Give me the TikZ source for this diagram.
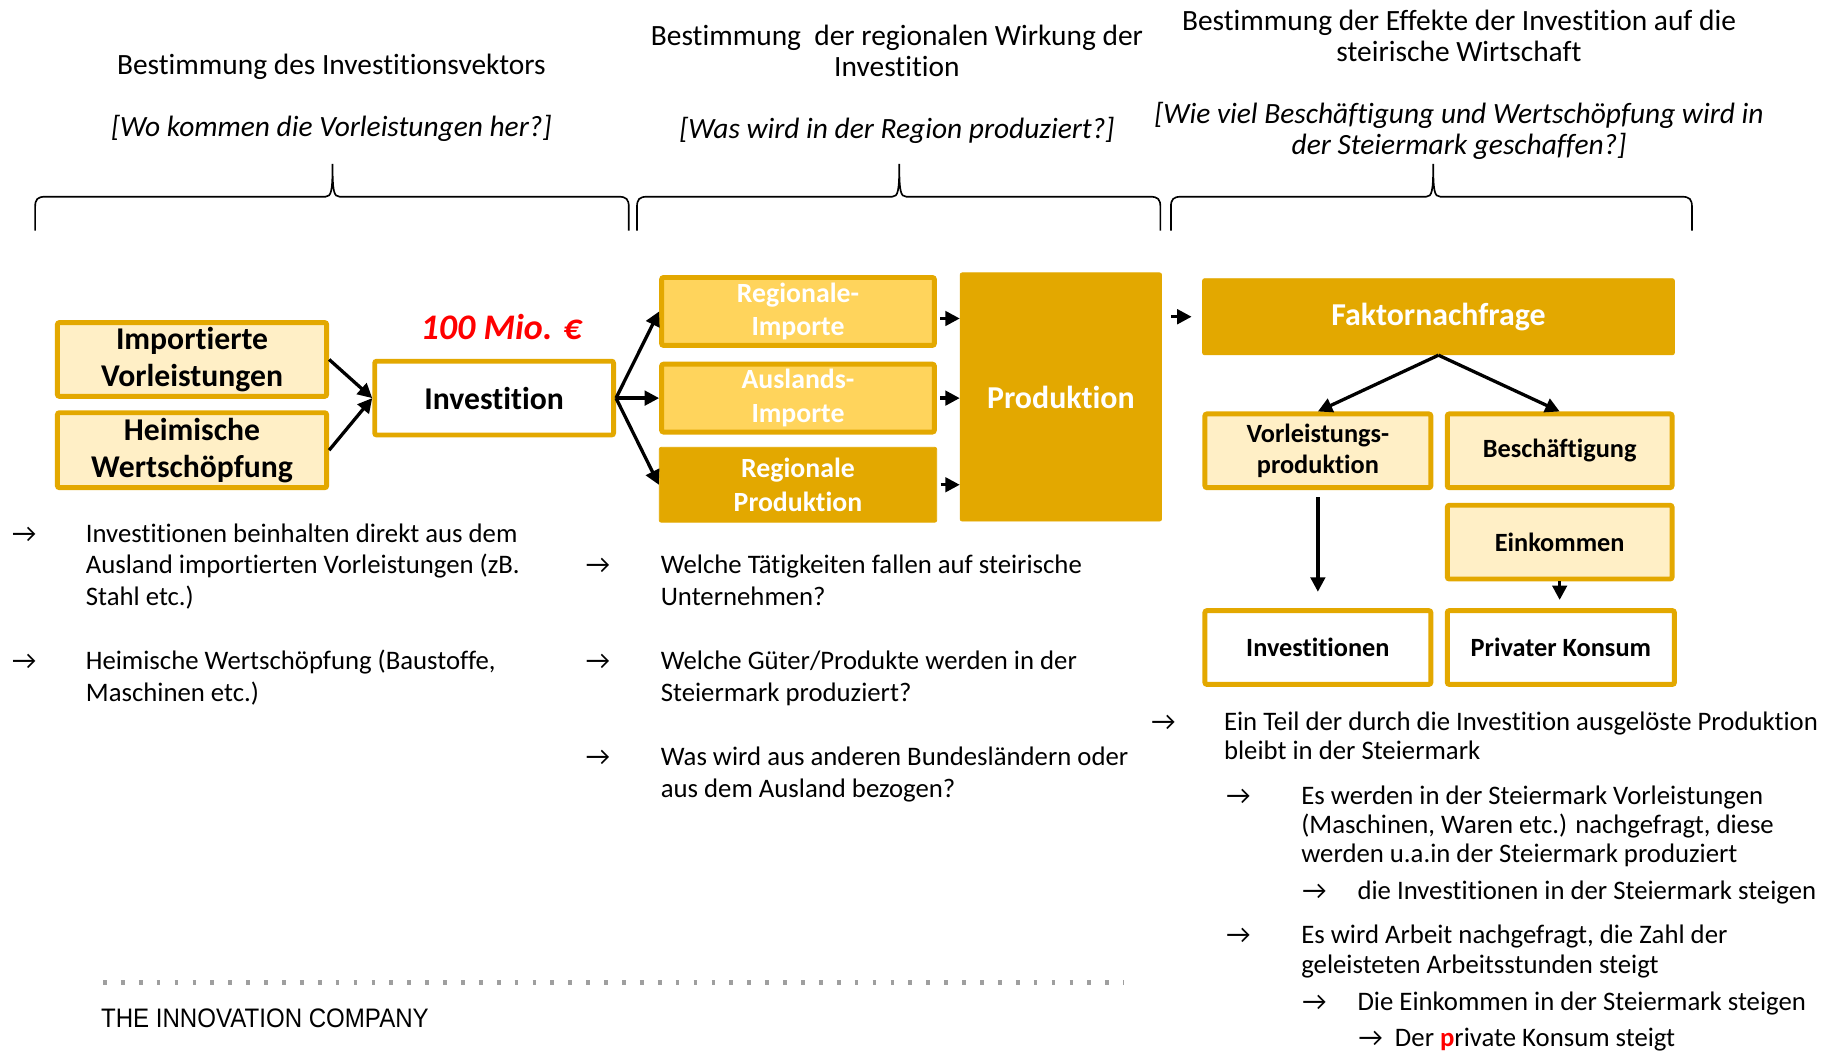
\documentclass[tikz,border=0pt]{standalone}
\usepackage{fontspec}
\usepackage{graphicx}
\setmainfont{Carlito}[Ligatures=NoCommon]
\newfontfamily\logofont{Liberation Sans}
\usetikzlibrary{arrows.meta}
\definecolor{gold}{HTML}{E3A800}
\definecolor{goldhell}{HTML}{FFEFC6}
\definecolor{goldmittel}{HTML}{FFD45C}
\definecolor{rot}{HTML}{FF0000}
\newcommand{\kopffont}{\fontsize{14.3}{15.3}\selectfont}
\newcommand{\txtfont}{\fontsize{13}{15.3}\selectfont}
\newcommand{\effektfont}{\fontsize{13}{14.2}\selectfont}

\begin{document}
\begin{tikzpicture}[x=0.02cm,y=-0.02cm,
  hellbox/.style={draw=gold,line width=2.4pt,fill=goldhell,rounded corners=1pt,align=center,inner sep=0,font=\bfseries\fontsize{15.4}{18.1}\selectfont},
  weissbox/.style={hellbox,fill=white},
  mittelbox/.style={hellbox,fill=goldmittel,text=white,font=\bfseries\fontsize{13.5}{16.4}\selectfont},
  vollbox/.style={draw=gold,fill=gold,rounded corners=1pt,align=center,inner sep=0,text=white},
  kleinbox/.style={hellbox,font=\bfseries\fontsize{12.8}{15.3}\selectfont},
  pfeil/.style={-{Triangle[length=7pt,width=7pt]},line width=1.6pt},
  klammer/.style={line width=0.8pt},
  kopf/.style={align=center,font=\kopffont},
  frage/.style={align=center,font=\kopffont\itshape},
  punkt/.style={anchor=base west,align=left,inner sep=0,font=\txtfont}]
  \useasboundingbox (0,0) rectangle (1568,898);

  % Ueberschriften
  \node[kopf] (h1) at (283,57) {Bestimmung des Investitionsvektors};
  \node[frage] (q1) at (283,110) {[Wo kommen die Vorleistungen her?]};
  \node[kopf] (h2) at (766,43.5) {Bestimmung~ der regionalen Wirkung der\\Investition};
  \node[frage] (q2) at (766,111) {[Was wird in der Region produziert?]};
  \node[kopf] (h3) at (1246,30.5) {Bestimmung der Effekte der Investition auf die\\steirische Wirtschaft};
  \node[frage] (q3) at (1246,112) {[Wie viel Beschäftigung und Wertschöpfung wird in\\der Steiermark geschaffen?]};

  % Klammern
  \foreach \l/\t/\r in {30/284/537, 544/768/991, 1000/1224/1445}
    \draw[klammer] (\l,197) -- (\l,177) .. controls (\l,170) and (\l+2,168) .. (\l+9,168)
      -- (\t-6,168) .. controls (\t-1,168) and (\t,163) .. (\t,140)
      .. controls (\t,163) and (\t+1,168) .. (\t+6,168)
      -- (\r-9,168) .. controls (\r-2,168) and (\r,170) .. (\r,177) -- (\r,197);

  % Investitionsvektor
  \node[hellbox,minimum width=4.6cm,minimum height=1.26cm] (imp) at (164,307) {Importierte\\Vorleistungen};
  \node[hellbox,minimum width=4.6cm,minimum height=1.28cm] (heim) at (164,384.5) {Heimische\\Wertschöpfung};
  \node[weissbox,minimum width=4.08cm,minimum height=1.26cm] (inv) at (422,340) {Investition};
  \node[font=\bfseries\itshape\fontsize{17.5}{21}\selectfont,text=rot] (mio) at (428,279) {100 Mio. €};

  % regionale Wirkung
  \node[mittelbox,minimum width=4.66cm,minimum height=1.16cm] (regimp) at (681.5,266) {Regionale-\\Importe};
  \node[mittelbox,minimum width=4.66cm,minimum height=1.16cm] (ausimp) at (681.5,340) {Auslands-\\Importe};
  \node[vollbox,font=\bfseries\fontsize{13.5}{16.4}\selectfont,minimum width=4.74cm,minimum height=1.28cm] (regprod) at (681.5,414) {Regionale\\Produktion};
  \node[vollbox,font=\bfseries\fontsize{15.5}{18}\selectfont,minimum width=3.44cm,minimum height=4.24cm] (prod) at (906,339) {Produktion};

  % Effekte
  \node[vollbox,font=\bfseries\fontsize{15.5}{18}\selectfont,minimum width=8.06cm,minimum height=1.3cm] (fakt) at (1228.5,270.5) {Faktornachfrage};
  \node[kleinbox,minimum width=3.86cm,minimum height=1.26cm] (vlp) at (1125.5,385) {Vorleistungs-\\produktion};
  \node[kleinbox,minimum width=3.84cm,minimum height=1.26cm] (besch) at (1332,385) {Beschäftigung};
  \node[kleinbox,minimum width=3.84cm,minimum height=1.26cm] (eink) at (1332,463) {Einkommen};
  \node[kleinbox,fill=white,minimum width=3.86cm,minimum height=1.26cm] (invs) at (1125.5,553) {Investitionen};
  \node[kleinbox,fill=white,minimum width=3.88cm,minimum height=1.26cm] (konsum) at (1333,553) {Privater Konsum};

  \draw[pfeil] (imp.east) -- (inv.west);
  \draw[pfeil] (heim.east) -- (inv.west);
  \draw[pfeil] (inv.east) -- (regimp.west);
  \draw[pfeil] (inv.east) -- (ausimp.west);
  \draw[pfeil] (inv.east) -- (regprod.west);
  \draw[pfeil,shorten <=0.06cm] ([yshift=-0.12cm]regimp.east) -- ([yshift=-0.12cm]regimp.east -| prod.west);
  \draw[pfeil,shorten <=0.06cm] (ausimp.east) -- (ausimp.east -| prod.west);
  \draw[pfeil,shorten <=0.06cm] (regprod.east) -- (regprod.east -| prod.west);
  \draw[pfeil,shorten <=0.16cm,shorten >=0.18cm] (prod.east |- fakt.west) -- (fakt.west);
  \draw[pfeil] (fakt.south) -- (vlp.north);
  \draw[pfeil] (fakt.south) -- (besch.north);
  \draw[pfeil,shorten <=0.12cm,shorten >=0.28cm] (vlp.south) -- (invs.north);
  \draw[pfeil,shorten >=0.14cm] (eink.south) -- (eink.south |- konsum.north);

  % Erlaeuterungen (base = letzte Zeile)
  \node[punkt] (a1) at (10,463) {→};
  \node[punkt] (t1) at (73,517) {Investitionen beinhalten direkt aus dem\\Ausland importierten Vorleistungen (zB.\\Stahl etc.)};
  \node[punkt] (a2) at (10,572) {→};
  \node[punkt] (t2) at (73,599) {Heimische Wertschöpfung (Baustoffe,\\Maschinen etc.)};

  \node[punkt] (a3) at (500,490) {→};
  \node[punkt] (t3) at (564,517) {Welche Tätigkeiten fallen auf steirische\\Unternehmen?};
  \node[punkt] (a4) at (500,572) {→};
  \node[punkt] (t4) at (564,599) {Welche Güter/Produkte werden in der\\Steiermark produziert?};
  \node[punkt] (a5) at (500,654) {→};
  \node[punkt] (t5) at (564,681) {Was wird aus anderen Bundesländern oder\\aus dem Ausland bezogen?};

  \node[punkt,font=\effektfont] (a6) at (983,624) {→};
  \node[punkt,font=\effektfont] (t6) at (1045,649) {Ein Teil der durch die Investition ausgelöste Produktion\\bleibt in der Steiermark};
  \node[punkt,font=\effektfont] (a7) at (1047,687) {→};
  \node[punkt,font=\effektfont] (t7) at (1111,737) {Es werden in der Steiermark Vorleistungen\\(Maschinen, Waren etc.) nachgefragt, diese\\werden u.a.in der Steiermark produziert};
  \node[punkt,font=\effektfont] (a8) at (1112,768) {→};
  \node[punkt,font=\effektfont] (t8) at (1159,768) {die Investitionen in der Steiermark steigen};
  \node[punkt,font=\effektfont] (a9) at (1047,806) {→};
  \node[punkt,font=\effektfont] (t9) at (1111,831) {Es wird Arbeit nachgefragt, die Zahl der\\geleisteten Arbeitsstunden steigt};
  \node[punkt,font=\effektfont] (a10) at (1112,863) {→};
  \node[punkt,font=\effektfont] (t10) at (1159,863) {Die Einkommen in der Steiermark steigen};
  \node[punkt,font=\effektfont] (a11) at (1160,894) {→};
  \node[punkt,font=\effektfont] (t11) at (1191,894) {Der {\color{rot}\bfseries p}rivate Konsum steigt};

  % Fusszeile
  \draw[gray!75,line width=2.6pt,dash pattern=on 1.8pt off 6.9pt] (88,839) -- (960,839);
  \node[anchor=west,inner sep=0,font=\logofont\fontsize{13}{15}\selectfont] (logo) at (86,870) {\scalebox{0.9}[1]{THE INNOVATION COMPANY}};
\end{tikzpicture}
\end{document}
